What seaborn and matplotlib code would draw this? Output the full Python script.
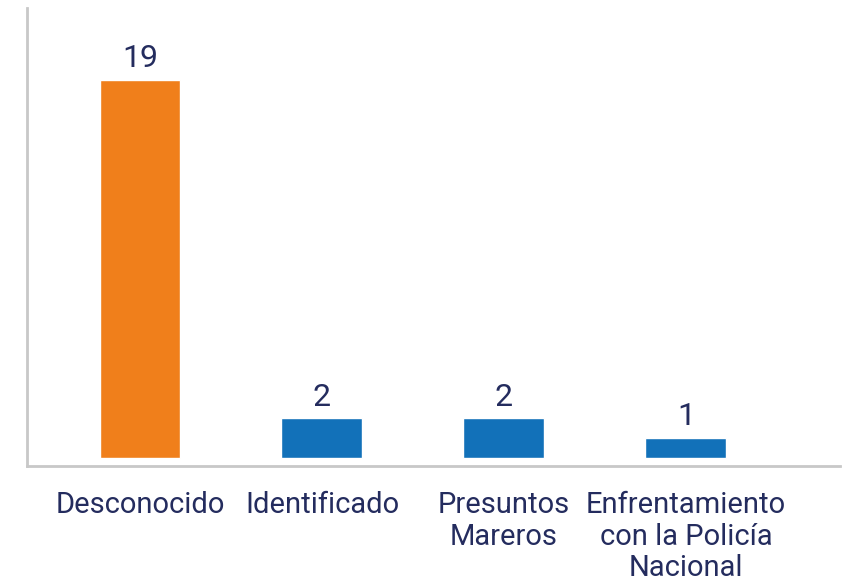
import matplotlib
matplotlib.use('Agg')
from matplotlib import pyplot as plt
import pandas as pd
import seaborn as sns

# Casos por tipo de autor
categorias = ['Desconocido', 'Identificado', 'Presuntos\nMareros',
              'Enfrentamiento\ncon la Policía\nNacional']
casos = [19, 2, 2, 1]
colores = ['#F07F1B', '#1271B9', '#1271B9', '#1271B9']

df = pd.DataFrame({'categoria': categorias, 'casos': casos})

sns.set_style('white')
plt.rcParams['font.family'] = ['Roboto', 'DejaVu Sans']
texto = '#242C5E'

f = plt.figure(figsize=(8.44, 5.85), dpi=100)
ax = f.add_axes([0.032, 0.203, 0.963, 0.783])
sns.barplot(data=df, x='categoria', y='casos', hue='categoria',
            palette=colores, legend=False, width=0.445, saturation=1, ax=ax)

for i, v in enumerate(casos):
    ax.text(i, v + 0.35, str(v), ha='center', va='bottom',
            fontsize=23, color=texto)

ax.set_xlim(-0.621, 3.846)
ax.set_ylim(-0.40, 22.62)
ax.set_xlabel('')
ax.set_ylabel('')
ax.set_yticks([])
ax.tick_params(axis='x', length=0, pad=18, labelsize=21, colors=texto)
for lab in ax.get_xticklabels():
    lab.set_linespacing(1.15)
    lab.set_va('top')

for s in ['top', 'right']:
    ax.spines[s].set_visible(False)
for s in ['left', 'bottom']:
    ax.spines[s].set_color('#C8C8C8')
    ax.spines[s].set_linewidth(2)

f.savefig('out.png', dpi=100)
